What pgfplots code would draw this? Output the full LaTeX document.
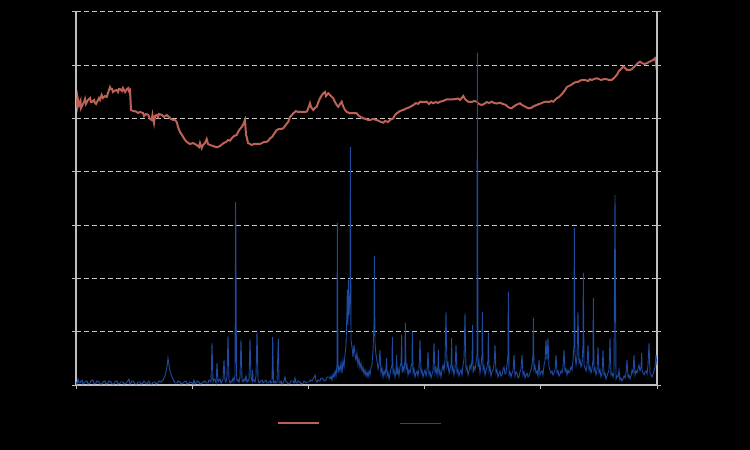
\documentclass[border=0pt]{standalone}
\usepackage{pgfplots}
\pgfplotsset{compat=1.18}
\definecolor{redline}{RGB}{188,98,86}
\definecolor{blueline}{RGB}{30,75,160}
\definecolor{axgray}{RGB}{190,190,190}
\definecolor{gridgray}{RGB}{200,200,200}
\begin{document}
\begin{tikzpicture}
\fill[black] (0,0) rectangle (375pt,225pt);
\useasboundingbox (0,0) rectangle (375pt,225pt);
\pgfplotsset{
  common/.style={
    at={(38pt,32.5pt)}, anchor=south west,
    scale only axis, width=290.5pt, height=186.5pt,
    xmin=76, xmax=657, ymin=0, ymax=373,
    xtick={76,192.2,308.4,424.6,540.8,657},
    ytick={0,53.29,106.57,159.86,213.14,266.43,319.71,373},
    xticklabels={}, yticklabels={},
    tick align=outside, major tick length=2pt,
    every tick/.style={axgray, line width=0.5pt},
    axis line style={-, axgray, line width=0.6pt},
  }
}
\begin{axis}[common,
  axis x line*=bottom, axis y line*=left,
  xtick pos=lower, ytick pos=left,
  ymajorgrids, grid style={gridgray, line width=0.5pt, dash pattern=on 2.5pt off 1.5pt},
]
\addplot[redline, line width=1pt] table {
x y
76 285
77 280
77.5 288
79 280
80.5 284
81 277
82 279
84 283
85 286
86 281
88 285
90 287
91 283
92 283
94 285
95 282
96 281
97 283
99 287
100 285
101.7 290
103 287
105 289
106.7 288
108 292
110 298
111 296
112 296
113 293
114 294
116.7 295
118 293
119 296
120 296
122 294
123 297
124 295
125 293
127 296
128.3 297
129 294
130 295
131 275
133 274
136 273.5
138 272
140 273
143 272
144 269
146 271
148.3 270
150 266
151.7 265
152.5 270
154 262
155 269
156.7 270
158 268
159 271
162 270
164 268
166.7 270
169 268
171 266
173.3 265
175 265
176.7 263
178 258
180 253
182 250
185 245
187 243
188.3 242
190 241
193 242
196.7 240
199 238
200 242
201.7 237
203 240
205 242
206.7 246
208 241
210 240
213 239
216.7 237.7
220 239
223.3 241.7
226 243
228 245
230 244.3
232 247
234 249
236.7 250
238 253
240 256
241.7 258
243 260
245 265
246 250
246.7 248
248 242
250 241
251.7 240
254 241
257 241
260 241
262 242
264 243
266.7 243.3
268 244
270 246.7
272 248
274 251
276.7 255
279 256
281 256
283.3 256.7
285 259
288.3 263.3
290 268
293.3 271.7
296 274
298 273
300 273.3
303 273
306.7 273.3
308 276
310 281.7
311 278
313.3 275
315 277
316.7 278.3
318 282
320 286.7
322 290
323.3 291.7
325 293
326 289
328.3 291.7
330 290
333.3 286.7
335 283
336.7 280
338.3 278.3
340 281
341.7 283.3
343 279
345 275
347 273
350 271.7
353 272
356.7 271.7
359 269
361 268
363.3 266.7
366 266
368 265
370 265
373 266
376.7 265
379 264
381 263
383.3 262.3
385 264
388 263
390 265
393.3 266.7
395 270
396.7 271.7
400 274
403 275
406.7 276.7
410 278
413.3 280
416 282
418 281
420 283.3
423 283
426.7 283.3
429 281
431 283
433.3 281.7
436 283
438 282
440 283.3
443 284
446.7 285.7
450 285.7
453.3 285.7
456 286
458 286.5
460 285
463.3 289
465 286
466.7 284.3
469 283
472 283
474 284
476.7 283.3
479 281
481.7 280
484 281
487 283
489 282
491.7 283.3
494 282
497 281.5
500 282.3
503 281
506 280
508 278
510 277
511.7 276.7
513 278
516 280
518 281
520 281.7
522 280
524 279
526 278
528.3 276.7
531 277
534 279
536.7 280
539 281
542 282
544 283
546.7 283.3
549 283
551 284
553.3 283.3
555 285
556.7 286.7
559 288
562 291
565 295
567 298
569 299
571 300
573.3 301.7
576 303
578 303
580 304.3
582 305
585 305
588 304
590 305.7
592 305
594 306
596.7 306.7
599 306
601 305
603.3 305.7
606 306
609 305
611.7 305
614 307
616.7 310
619 314
621 316
623.3 318.3
625 317
627 315
630 315
632 316
634 318
636 320
638 322
640 323.3
642 322
644 321
646.7 321.7
649 323
651 324
653 325
655 326.7
656 322
656.7 315
};
\end{axis}
\begin{axis}[common,
  axis x line=none, axis y line*=right,
  ytick pos=right,
  legend columns=2,
  legend style={at={(0.346,-0.1032)}, anchor=west, draw=none, fill=none,
    text=black, inner sep=0pt, outer sep=0pt, column sep=0pt,
    nodes={inner sep=0pt}},
  legend image code/.code={\draw[#1] (0pt,0pt) -- (20.5pt,0pt);},
]
\addlegendimage{redline, line width=1pt}
\addlegendentry{\makebox[40pt][l]{\hspace{4pt}Index}}
\addplot[blueline, line width=0.45pt] table {
x y
76 3
77 1
78 6
79 2
80 2
81 4
82 5
83 1
84 2
85 3
87 4
88 1
90 2
91 4
93 5
94 1
96 2
97 4
99 3
100 1
102 1
103 3
105 4
106 1
108 2
109 4
111 3
112 1
114 1
115 3
117 4
118 1
120 2
121 3
123 3
124 1
126 2
127 3
129 6
130 1
131 2
132 4
134 3
135 1
137 1
138 3
140 3
141 1
143 2
144 4
146 2
147 1
149 4
150 1
152 1
153 3
155 3
156 1
158 2
159 4
161 3
163 5
165 9
167 18
168 27
169 20
170 14
172 8
174 4
175 2
177 2
178 4
180 3
181 1
183 2
184 3
186 4
187 1
189 2
190 3
192 2
193 1
194 5
195 1
196 2
197 4
199 3
200 1
202 2
203 3
205 4
206 2
208 2
209 5
211 3
212 42
213 3
214 6
215 5
216 2
217 22
218 3
219 5
220 6
221 2
222 4
223 6
224 25
225 4
226 3
227 8
228 49
229 5
230 2
231 4
232 3
233 7
234 4
235 10
235.7 183
236.5 12
237 4
238 5
239 3
240 8
241 45
242 5
243 3
244 6
245 4
246 9
247 3
248 5
249 4
250 46
251 8
252 4
252.7 15
253 4
254 5
255 3
256 9
257 53
258 6
259 2
260 3
261 4
262 5
263 2
264 3
265 4
266 5
267 2
268 2
269 3
270 4
271 2
272 3
272.7 48
273.5 3
274 2
275 4
276 2
277 3
278.3 46
279 3
280 2
281 4
282 1
283 2
284 4
285 8
286 3
287 3
288 1
290 2
291 4
293 4
294 2
295 7
296 2
297 2
298 4
300 3
301 1
303 2
304 4
306 2
307 3
309 3
310 5
312 4
313 6
315 10
316 4
317 3
318 5
320 4
321 7
323 6
324 4
326 5
327 8
329 8
330 6
331 9
332 5
333 11
334 8
335 14
336 9
337 20
337.3 162
338 12
339 18
340 14
341 22
342 12
343 25
344 18
345 30
346 40
347 75
347.3 95
348 60
348.3 105
349 70
350 90
350.3 238
351 45
352 38
353 28
354 40
355 30
356 25
357 32
358 20
359 26
360 17
361 22
362 14
363 18
364 11
365 15
366 9
367 13
368 8
369 14
370 10
371 18
372 20
373 35
374 60
374.3 129
375 42
376 30
377 24
378 16
379 20
380 35
381 12
382 17
383 8
384 14
385 10
386 18
386.7 27
387 9
388 13
389 6
390 11
391 16
392 20
392.3 48
393 12
394 15
395 8
396 14
396.7 30
397 10
398 16
399 9
400 18
401 22
401.7 50
402 12
403 18
404 14
405 25
405.3 62
406 16
407 20
408 10
409 15
410 12
411 18
412 22
412.3 53
413 12
414 16
415 8
416 12
417 14
418 9
419 16
420 45
421 12
422 15
423 8
424 12
425 15
426 9
427 14
428 33
429 10
430 13
431 7
432 11
433 14
434 42
435 12
436 17
437 10
438 20
438.3 35
439 10
440 14
441 8
442 15
443 20
444 14
445 25
446 73
447 18
448 22
449 12
450 16
451 20
451.7 47
452 14
453 18
454 10
455 16
456 40
457 12
458 15
459 9
460 13
461 15
462 10
463 20
464 26
465 72
466 15
467 18
468 10
469 14
470 20
471 16
472 25
472.7 60
473 12
474 18
475 15
476 22
477 30
477.3 332
478 18
479 24
480 12
481 20
482 30
482.3 73
483 15
484 19
485 10
486 14
487 18
488 25
488.3 52
489 14
490 18
491 9
492 13
493 15
494 20
495 40
496 12
497 15
498 8
499 11
500 14
501 9
502 10
503 15
504 18
505 11
506 12
507 20
508 30
508.3 93
509 10
510 13
511 8
512 12
513 14
514 30
515 9
516 13
517 12
518 7
519 8
520 13
521 16
522 30
523 10
524 13
525 7
526 10
527 12
528 8
529 9
530 12
531 15
532 20
533 30
533.3 67
534 15
535 19
536 12
537 14
538 9
539 25
540 10
541 13
542 14
543 10
544 20
545 24
546 45
547 25
548 47
549 18
550 15
551 12
552 14
553 10
554 12
555 15
556 30
557 12
558 14
559 9
560 11
561 14
562 12
563 18
564 35
565 14
566 16
567 10
568 15
569 12
570 14
571 18
572 15
573 25
574 40
574.3 157
575 30
576 20
577 28
578 73
579 22
580 25
581 18
582 22
583 40
583.3 112
584 20
585 17
586 14
587 20
588 40
589 15
590 18
591 12
592 16
593 25
593.3 87
594 14
595 17
596 10
597 14
598 38
599 12
600 15
601 8
602 12
603 35
604 10
605 12
606 6
607 9
608 12
609 15
610 47
611 10
612 12
613 8
614 12
615 190
616 6
617 9
618 8
619 15
620 5
621 7
622 4
623 6
624 9
625 7
626 12
627 25
628 8
629 10
630 6
631 9
632 15
633 12
634 30
635 10
636 14
637 12
638 16
639 20
640 14
641 18
641.7 32
642 15
643 12
644 10
645 13
646 14
647 11
648 20
649 42
650 12
651 10
652 8
653 11
654 14
655 18
656 30
657 20
};
\addlegendentry{Volume}
\end{axis}
\end{tikzpicture}
\end{document}
